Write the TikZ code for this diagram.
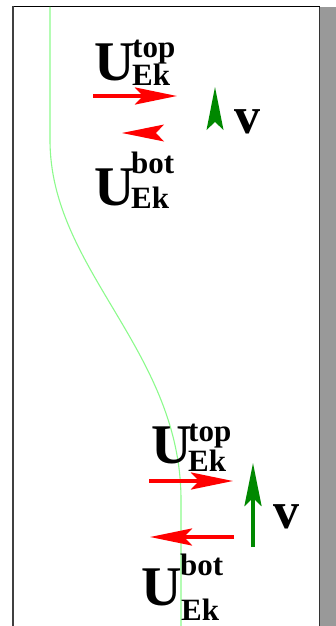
\documentclass[tikz,border=0pt]{standalone}
\usepackage{fontspec}
\setmainfont{Liberation Serif}
\usetikzlibrary{arrows.meta}
\definecolor{profile}{RGB}{140,250,140}
\definecolor{flowred}{RGB}{255,0,0}
\definecolor{flowgreen}{RGB}{0,136,0}
\definecolor{wallgray}{RGB}{153,153,153}
\tikzset{
  bigsym/.style={anchor=base west, inner sep=0pt, font=\fontsize{56}{56}\selectfont\bfseries},
  scriptsym/.style={anchor=base west, inner sep=0pt, font=\fontsize{31}{31}\selectfont\bfseries},
  vsym/.style={anchor=base west, inner sep=0pt, font=\fontsize{52}{52}\selectfont\bfseries},
  redarrow/.style={draw=flowred, line width=4pt,
    -{Stealth[length=42pt, width=17pt, inset=8pt, fill=flowred]}},
  greenarrow/.style={draw=flowgreen, line width=4pt,
    -{Stealth[length=43pt, width=17pt, inset=8pt, fill=flowgreen]}},
}
\begin{document}
\begin{tikzpicture}[x=1pt, y=-1pt]
\useasboundingbox (0,0) rectangle (336,626);

% channel walls
\fill[wallgray] (319,7) rectangle (336,626);
\draw[black!80, line width=1pt] (319.5,7) -- (319.5,626);
\draw[black, line width=1.6pt] (12,6.5) -- (320,6.5);
\draw[black!75, line width=1.3pt] (13,6) -- (13,626);

% interface profile
\draw[profile, line width=1.1pt] (50,7) -- (50,140)
  .. controls (50,270) and (181,350) .. (181,500) -- (181,626);

% upper group of velocity arrows (two are bare heads)
\coordinate (a1s) at (93,96);   \coordinate (a1e) at (177,96);
\coordinate (a2e) at (122,133);
\coordinate (g1e) at (215,87);
\draw[redarrow] (a1s) -- (a1e);
\fill[flowred] (a2e) -- ++(42,-8.5) -- ++(-8,8.5) -- ++(8,8.5) -- cycle;
\fill[flowgreen] (g1e) -- ++(-8.5,43) -- ++(8.5,-8) -- ++(8.5,8) -- cycle;

% lower group of velocity arrows
\coordinate (b1s) at (149,481); \coordinate (b1e) at (233,481);
\coordinate (b2s) at (234,537); \coordinate (b2e) at (150,537);
\coordinate (g2s) at (253,547); \coordinate (g2e) at (253,463);
\draw[redarrow] (b1s) -- (b1e);
\draw[redarrow] (b2s) -- (b2e);
\draw[greenarrow] (g2s) -- (g2e);

% upper labels
\node[bigsym]    (u1)  at (94,80)   {U};
\node[scriptsym] (u1t) at (132,57)  {top};
\node[scriptsym] (u1k) at (132,85)  {Ek};
\node[bigsym]    (u2)  at (94,205)  {U};
\node[scriptsym] (u2t) at (131,173) {bot};
\node[scriptsym] (u2k) at (131,208) {Ek};
\node[vsym]      (v1)  at (234,133) {v};

% lower labels
\node[bigsym]    (u3)  at (151,463) {U};
\node[scriptsym] (u3t) at (188,441) {top};
\node[scriptsym] (u3k) at (188,471) {Ek};
\node[bigsym]    (u4)  at (141,605) {U};
\node[scriptsym] (u4t) at (180,575) {bot};
\node[scriptsym] (u4k) at (181,620) {Ek};
\node[vsym]      (v2)  at (273,528) {v};
\end{tikzpicture}
\end{document}
